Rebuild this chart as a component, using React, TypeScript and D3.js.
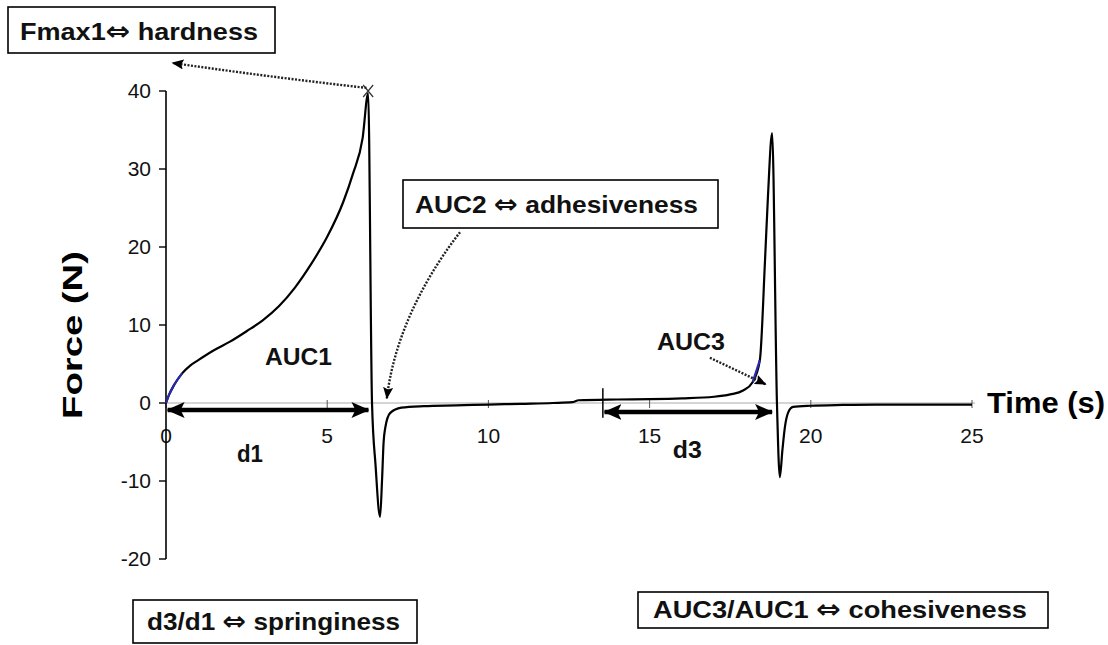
import * as d3 from 'd3';

// texture-analyser curve, force (N) against time (s)
const time = [0, 0.1, 0.25, 0.5, 0.75, 1.0, 1.5, 2.0, 2.5, 3.0, 3.5, 4.0, 4.5, 5.0, 5.5, 5.8, 6.1, 6.27, 6.39, 6.5, 6.64, 6.7, 6.75, 6.8, 6.95, 7.3, 8.0, 9.0, 10.0, 11.0, 12.0, 12.6, 12.8, 14.0, 15.0, 16.0, 17.0, 17.5, 17.9, 18.2, 18.42, 18.58, 18.67, 18.8, 18.95, 19.04, 19.12, 19.2, 19.3, 19.45, 20.0, 21.0, 22.0, 23.0, 24.0, 25.0];
const force = [0, 1.1, 2.3, 3.8, 4.8, 5.5, 6.8, 7.9, 9.2, 10.6, 12.4, 14.8, 17.8, 21.3, 25.8, 29.4, 34.0, 39.7, 0, -8, -14.6, -10, -5, -3.2, -1.3, -0.6, -0.4, -0.3, -0.2, -0.1, 0, 0.1, 0.35, 0.45, 0.5, 0.6, 0.8, 1.1, 1.6, 2.7, 5.5, 18.3, 26.4, 34.6, 0, -9.5, -6, -3, -1.2, -0.5, -0.35, -0.25, -0.2, -0.2, -0.2, -0.2];
const blueSpans = [[0, 0.5], [18.2, 18.45]];

const xTicks = [0, 5, 10, 15, 20, 25];
const yTicks = [-20, -10, 0, 10, 20, 30, 40];

const W = 1108;
const H = 645;
const FONT = '"Liberation Sans", Arial, sans-serif';

const x = d3.scaleLinear().domain([0, 25]).range([166, 972]);
const y = d3.scaleLinear().domain([-20, 40]).range([559, 91]);

const pts = time.map((t, i) => ({ t, f: force[i] }));
const line = d3.line<{ t: number; f: number }>()
  .x(d => x(d.t))
  .y(d => y(d.f))
  .curve(d3.curveMonotoneX);

// captions: text before and after the double arrow
const boxes = [
  { pre: 'Fmax1', post: ' hardness', x: 8, y: 7, w: 267, h: 46, tx: 20, ty: 40, len: 238 },
  { pre: 'AUC2 ', post: ' adhesiveness', x: 403, y: 180, w: 315, h: 48, tx: 415, ty: 213, len: 283 },
  { pre: 'd3/d1 ', post: ' springiness', x: 133, y: 600, w: 284, h: 43, tx: 147, ty: 630, len: 253 },
  { pre: 'AUC3/AUC1  ', post: ' cohesiveness', x: 638, y: 592, w: 410, h: 36, tx: 653, ty: 618, len: 374 },
];

export default function App() {
  const px = (t: number, f: number) => `${x(t)},${y(f)}`;
  const d1y = y(-0.9);
  const d3y = y(-1.15);
  return (
    <svg width={W} height={H} style={{ position: 'absolute', left: 0, top: 0, background: '#fff' }} fontFamily={FONT}>
      <defs>
        <marker id="thick" viewBox="0 0 18 16" markerWidth={18} markerHeight={16} refX={17} refY={8}
          markerUnits="userSpaceOnUse" orient="auto-start-reverse">
          <path d="M0,0 L18,8 L0,16 L4,8 Z" fill="#000" />
        </marker>
        <marker id="thin" viewBox="0 0 12 10" markerWidth={12} markerHeight={10} refX={11} refY={5}
          markerUnits="userSpaceOnUse" orient="auto">
          <path d="M0,0 L12,5 L0,10 L2,5 Z" fill="#000" />
        </marker>
      </defs>

      {/* axes */}
      <line x1={x(0)} x2={x(25) + 3} y1={y(0)} y2={y(0)} stroke="#aaa" strokeWidth={1} />
      {xTicks.map(v => (
        <g key={'xt' + v}>
          <line x1={x(v)} x2={x(v)} y1={y(0) - 3} y2={y(0) + 5} stroke="#555" strokeWidth={1} />
          <text x={x(v)} y={443} fontSize={21} textAnchor="middle" fill="#111">{v}</text>
        </g>
      ))}
      <line x1={x(0)} x2={x(0)} y1={y(40)} y2={y(-20)} stroke="#000" strokeWidth={1.6} />
      {yTicks.map(v => (
        <g key={'yt' + v}>
          <line x1={x(0) - 7} x2={x(0)} y1={y(v)} y2={y(v)} stroke="#000" strokeWidth={1.4} />
          <text x={151} y={y(v)} dy="0.35em" fontSize={21} textAnchor="end" fill="#111">{v}</text>
        </g>
      ))}
      <text transform={`translate(82,${335}) rotate(-90)`} fontSize={28} fontWeight="bold" textAnchor="middle"
        textLength={168} lengthAdjust="spacingAndGlyphs">Force (N)</text>
      <text x={987} y={413} fontSize={30} fontWeight="bold" textLength={118} lengthAdjust="spacingAndGlyphs">Time (s)</text>

      {/* curve */}
      <path d={line(pts) ?? ''} fill="none" stroke="#000" strokeWidth={2.2} strokeLinejoin="round" />
      {blueSpans.map(([a, b], i) => (
        <path key={'b' + i} d={line(pts.filter(p => p.t >= a && p.t <= b)) ?? ''} fill="none" stroke="#2a2aa8" strokeWidth={2.2} />
      ))}

      {/* peak marker */}
      <path d={`M${x(6.27) - 5},${y(40) - 6} L${x(6.27) + 5},${y(40) + 6} M${x(6.27) + 5},${y(40) - 6} L${x(6.27) - 5},${y(40) + 6}`}
        stroke="#333" strokeWidth={1.2} />

      {/* d1 / d3 double arrows */}
      <line x1={x(0.05)} x2={x(6.28)} y1={d1y} y2={d1y} stroke="#000" strokeWidth={4.5}
        markerStart="url(#thick)" markerEnd="url(#thick)" />
      <line x1={x(13.6)} x2={x(18.8)} y1={d3y} y2={d3y} stroke="#000" strokeWidth={4.5}
        markerStart="url(#thick)" markerEnd="url(#thick)" />
      <line x1={x(13.55)} x2={x(13.55)} y1={y(1.9)} y2={y(-1.9)} stroke="#000" strokeWidth={1.5} />

      {/* dotted pointers */}
      <path d={`M${px(6.22, 40.4)} Q${px(3.2, 41.8)} ${px(0.2, 43.6)}`} fill="none" stroke="#222"
        strokeWidth={2.4} strokeDasharray="2 1.5" markerEnd="url(#thin)" />
      <path d={`M${px(9.12, 21.9)} C${px(8.2, 17)} ${px(7.1, 9.4)} ${px(6.85, 0.6)}`} fill="none" stroke="#222"
        strokeWidth={2.4} strokeDasharray="2 1.5" markerEnd="url(#thin)" />
      <path d={`M${px(16.87, 5.8)} L${px(18.6, 2.4)}`} fill="none" stroke="#222"
        strokeWidth={2.4} strokeDasharray="2 1.5" markerEnd="url(#thin)" />

      {/* in-plot labels */}
      <g fontSize={24} fontWeight="bold" fill="#111">
        <text x={x(3.07)} y={y(4.9)} textLength={67} lengthAdjust="spacingAndGlyphs">AUC1</text>
        <text x={x(15.23)} y={y(6.8)} textLength={68} lengthAdjust="spacingAndGlyphs">AUC3</text>
        <text x={x(2.2)} y={y(-7.5)} textLength={26} lengthAdjust="spacingAndGlyphs">d1</text>
        <text x={x(15.72)} y={y(-7.0)} textLength={29} lengthAdjust="spacingAndGlyphs">d3</text>
      </g>

      {/* boxed captions */}
      {boxes.map(b => (
        <g key={b.pre}>
          <rect x={b.x} y={b.y} width={b.w} height={b.h} fill="#fff" stroke="#000" strokeWidth={1.6} />
          <text x={b.tx} y={b.ty} fontSize={24} fontWeight="bold" fill="#111"
            textLength={b.len} lengthAdjust="spacingAndGlyphs">
            {b.pre}
            <tspan fontFamily='"DejaVu Sans", sans-serif' fontSize={26} fontWeight="bold">{'\u21D4'}</tspan>
            {b.post}
          </text>
        </g>
      ))}
    </svg>
  );
}
